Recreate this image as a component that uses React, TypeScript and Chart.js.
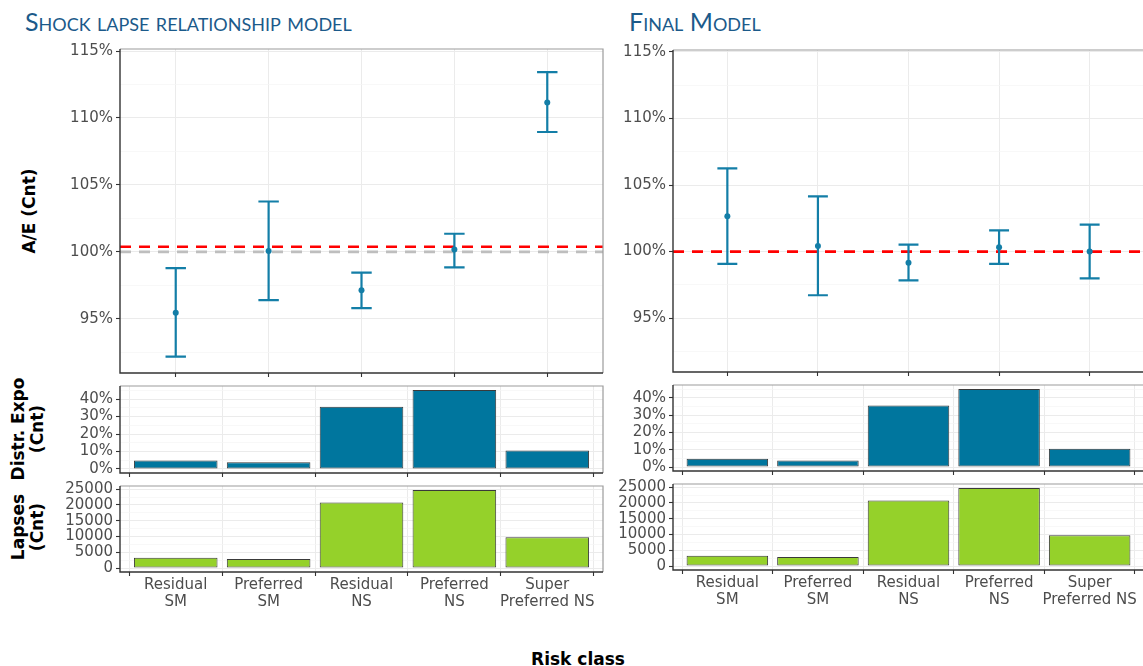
import React, { useEffect, useRef } from 'react';
import { Chart, registerables } from 'chart.js';

Chart.register(...registerables);

// Risk classes, split over two lines for the category axis
const RISK_CLASS_LINES: string[][] = [
  ['Residual', 'SM'],
  ['Preferred', 'SM'],
  ['Residual', 'NS'],
  ['Preferred', 'NS'],
  ['Super', 'Preferred NS'],
];

// A/E ratio (%) with confidence bounds: shock lapse relationship model
const SHOCK_AE = [95.45, 100.07, 97.13, 100.17, 111.15];
const SHOCK_AE_LOW = [92.17, 96.4, 95.8, 98.84, 108.95];
const SHOCK_AE_HIGH = [98.78, 103.76, 98.45, 101.35, 113.42];
const SHOCK_OVERALL_AE = 100.38;

// A/E ratio (%) with confidence bounds: final model
const FINAL_AE = [102.65, 100.42, 99.17, 100.33, 100.0];
const FINAL_AE_LOW = [99.08, 96.72, 97.83, 99.08, 97.98];
const FINAL_AE_HIGH = [106.25, 104.15, 100.53, 101.6, 102.03];
const FINAL_OVERALL_AE = 100.0;

const PARITY_AE = 100;

// Share of exposure count (%) and lapse counts per risk class
const EXPOSURE_SHARE = [4.8, 3.8, 35.6, 45.2, 10.6];
const LAPSE_COUNT = [3300, 2900, 20800, 24700, 9800];

// Axis ticks and ranges
const AE_TICKS = [95, 100, 105, 110, 115];
const AE_RANGE = [90.95, 115.15];
const SHARE_TICKS = [0, 10, 20, 30, 40];
const SHARE_RANGE = [-2.3, 47.5];
const LAPSE_TICKS = [0, 5000, 10000, 15000, 20000, 25000];
const LAPSE_RANGE = [-1240, 26000];

const FONT = '"DejaVu Sans", Verdana, sans-serif';
const TICK_TEXT = '#4D4D4D';
const AXIS_LINE = '#333333';
const FRAME_LINE = '#9C9C9C';
const GRID_MAJOR = '#EBEBEB';
const GRID_MINOR = '#F5F5F5';
const ERR_COLOR = '#137EA7';
const SHARE_FILL = '#00769E';
const LAPSE_FILL = '#95D12A';
const BAR_EDGE = '#3A3A3A';
const TITLE_COLOR = '#1B5A8A';

const PAD_TOP = 10;
const PAD_RIGHT = 4;
const CAP_HALF = 0.11; // error bar cap half-width in category units

type Frame = {
  canvasLeft: number;
  areaLeft: number;
  areaRight: number;
  areaTop: number;
  areaBottom: number;
  xHeight: number;
};

type Kind = 'ae' | 'share' | 'lapse';

type ChartSpec = {
  key: string;
  frame: Frame;
  kind: Kind;
  ae?: { mid: number[]; low: number[]; high: number[]; overall: number; parity: boolean };
};

const LEFT = { canvasLeft: 55, areaLeft: 120, areaRight: 603 };
const RIGHT = { canvasLeft: 610, areaLeft: 673, areaRight: 1144 };

const SPECS: ChartSpec[] = [
  {
    key: 'shock-ae',
    kind: 'ae',
    frame: { ...LEFT, areaTop: 49, areaBottom: 373, xHeight: 4 },
    ae: { mid: SHOCK_AE, low: SHOCK_AE_LOW, high: SHOCK_AE_HIGH, overall: SHOCK_OVERALL_AE, parity: true },
  },
  { key: 'shock-share', kind: 'share', frame: { ...LEFT, areaTop: 386, areaBottom: 473, xHeight: 4 } },
  { key: 'shock-lapse', kind: 'lapse', frame: { ...LEFT, areaTop: 486, areaBottom: 572, xHeight: 46 } },
  {
    key: 'final-ae',
    kind: 'ae',
    frame: { ...RIGHT, areaTop: 50, areaBottom: 372, xHeight: 4 },
    ae: { mid: FINAL_AE, low: FINAL_AE_LOW, high: FINAL_AE_HIGH, overall: FINAL_OVERALL_AE, parity: false },
  },
  { key: 'final-share', kind: 'share', frame: { ...RIGHT, areaTop: 385, areaBottom: 471, xHeight: 4 } },
  { key: 'final-lapse', kind: 'lapse', frame: { ...RIGHT, areaTop: 484, areaBottom: 570, xHeight: 46 } },
];

function canvasBox(f: Frame) {
  return {
    left: f.canvasLeft,
    top: f.areaTop - PAD_TOP,
    width: f.areaRight + PAD_RIGHT - f.canvasLeft,
    height: f.areaBottom - f.areaTop + PAD_TOP + f.xHeight,
  };
}

function isOnStep(v: number, step: number) {
  const r = v / step;
  return Math.abs(r - Math.round(r)) < 1e-6;
}

// Major ticks plus the minor ticks halfway between them
function withMinor(majors: number[], min: number, max: number) {
  const step = majors[1] - majors[0];
  const all = new Set<number>(majors);
  majors.forEach((v) => {
    all.add(v - step / 2);
    all.add(v + step / 2);
  });
  return Array.from(all)
    .filter((v) => v >= min - 1e-9 && v <= max + 1e-9)
    .sort((a, b) => a - b);
}

// ggplot-like panel: light frame on top/right, dark axis lines on left/bottom
const panelFrame = {
  id: 'panelFrame',
  afterDraw(chart: any) {
    const { ctx, chartArea: a } = chart;
    ctx.save();
    ctx.lineWidth = 1.2;
    ctx.strokeStyle = FRAME_LINE;
    ctx.beginPath();
    ctx.moveTo(a.left, a.top);
    ctx.lineTo(a.right, a.top);
    ctx.lineTo(a.right, a.bottom);
    ctx.stroke();
    ctx.lineWidth = 1.4;
    ctx.strokeStyle = AXIS_LINE;
    ctx.beginPath();
    ctx.moveTo(a.left, a.top);
    ctx.lineTo(a.left, a.bottom);
    ctx.lineTo(a.right, a.bottom);
    ctx.stroke();
    ctx.restore();
  },
};

function refLinesPlugin(lines: { value: number; color: string }[]) {
  return {
    id: 'refLines',
    beforeDatasetsDraw(chart: any) {
      const { ctx, chartArea: a, scales } = chart;
      ctx.save();
      ctx.lineWidth = 2.6;
      ctx.setLineDash([11, 8]);
      lines.forEach((l) => {
        const y = scales.y.getPixelForValue(l.value);
        ctx.strokeStyle = l.color;
        ctx.beginPath();
        ctx.moveTo(a.left, y);
        ctx.lineTo(a.right, y);
        ctx.stroke();
      });
      ctx.restore();
    },
  };
}

function errorBarPlugin(low: number[], high: number[]) {
  return {
    id: 'errorBars',
    beforeDatasetsDraw(chart: any) {
      const { ctx, scales } = chart;
      const { x, y } = scales;
      ctx.save();
      ctx.strokeStyle = ERR_COLOR;
      ctx.lineWidth = 2.2;
      low.forEach((lo, i) => {
        const cx = x.getPixelForValue(i + 1);
        const half = x.getPixelForValue(i + 1 + CAP_HALF) - cx;
        const yl = y.getPixelForValue(lo);
        const yh = y.getPixelForValue(high[i]);
        ctx.beginPath();
        ctx.moveTo(cx, yl);
        ctx.lineTo(cx, yh);
        ctx.moveTo(cx - half, yl);
        ctx.lineTo(cx + half, yl);
        ctx.moveTo(cx - half, yh);
        ctx.lineTo(cx + half, yh);
        ctx.stroke();
      });
      ctx.restore();
    },
  };
}

function buildConfig(spec: ChartSpec): any {
  const f = spec.frame;
  const yAxisWidth = f.areaLeft - f.canvasLeft;
  const showXLabels = spec.kind === 'lapse';

  let range: number[];
  let majors: number[];
  let fmt: (v: number) => string;
  if (spec.kind === 'ae') {
    range = AE_RANGE;
    majors = AE_TICKS;
    fmt = (v) => `${v}%`;
  } else if (spec.kind === 'share') {
    range = SHARE_RANGE;
    majors = SHARE_TICKS;
    fmt = (v) => `${v}%`;
  } else {
    range = LAPSE_RANGE;
    majors = LAPSE_TICKS;
    fmt = (v) => `${v}`;
  }
  const step = majors[1] - majors[0];
  const yTicks = withMinor(majors, range[0], range[1]);
  const major = (v: number | undefined) => v !== undefined && isOnStep(v, step);

  const options: any = {
    animation: false,
    responsive: false,
    maintainAspectRatio: false,
    events: [],
    layout: { padding: { top: PAD_TOP, right: PAD_RIGHT, bottom: 0, left: 0 } },
    plugins: { legend: { display: false }, tooltip: { enabled: false }, title: { display: false } },
    scales: {
      x: {
        type: 'linear',
        min: 0.4,
        max: RISK_CLASS_LINES.length + 0.6,
        offset: false,
        afterBuildTicks: (s: any) => {
          s.ticks = RISK_CLASS_LINES.map((_, i) => ({ value: i + 1 }));
        },
        afterFit: (s: any) => {
          s.height = f.xHeight;
          s.paddingLeft = 0;
          s.paddingRight = 0;
        },
        border: { display: false },
        grid: {
          color: GRID_MAJOR,
          lineWidth: 1,
          drawTicks: true,
          tickLength: 4,
          tickColor: AXIS_LINE,
          tickWidth: 1.1,
        },
        ticks: {
          display: showXLabels,
          autoSkip: false,
          maxRotation: 0,
          minRotation: 0,
          padding: 1,
          color: TICK_TEXT,
          font: { family: FONT, size: 15, lineHeight: 17 / 15 },
          callback: (v: number) => RISK_CLASS_LINES[Math.round(v) - 1] ?? '',
        },
      },
      y: {
        type: 'linear',
        min: range[0],
        max: range[1],
        afterBuildTicks: (s: any) => {
          s.ticks = yTicks.map((v) => ({ value: v }));
        },
        afterFit: (s: any) => {
          s.width = yAxisWidth;
          s.paddingTop = 0;
          s.paddingBottom = 0;
        },
        border: { display: false },
        grid: {
          color: (c: any) => (major(c.tick?.value) ? GRID_MAJOR : GRID_MINOR),
          lineWidth: (c: any) => (major(c.tick?.value) ? 1 : 0.7),
          tickLength: 4,
          tickColor: (c: any) => (major(c.tick?.value) ? AXIS_LINE : 'rgba(0,0,0,0)'),
          tickWidth: 1.1,
        },
        ticks: {
          autoSkip: false,
          padding: 3,
          color: TICK_TEXT,
          font: { family: FONT, size: 15 },
          callback: (v: number) => (major(v) ? fmt(v) : ''),
        },
      },
    },
  };

  if (spec.kind === 'ae' && spec.ae) {
    const ae = spec.ae;
    const lines = ae.parity
      ? [
          { value: PARITY_AE, color: '#BEBEBE' },
          { value: ae.overall, color: '#FF0000' },
        ]
      : [{ value: ae.overall, color: '#FF0000' }];
    return {
      type: 'scatter',
      data: {
        datasets: [
          {
            data: ae.mid.map((v, i) => ({ x: i + 1, y: v })),
            pointRadius: 3,
            pointBackgroundColor: ERR_COLOR,
            pointBorderWidth: 0,
            showLine: false,
          },
        ],
      },
      options,
      plugins: [refLinesPlugin(lines), errorBarPlugin(ae.low, ae.high), panelFrame],
    };
  }

  const values = spec.kind === 'share' ? EXPOSURE_SHARE : LAPSE_COUNT;
  return {
    type: 'bar',
    data: {
      datasets: [
        {
          data: values.map((v, i) => ({ x: i + 1, y: v })),
          backgroundColor: spec.kind === 'share' ? SHARE_FILL : LAPSE_FILL,
          borderColor: BAR_EDGE,
          borderWidth: 1,
          borderSkipped: false,
          categoryPercentage: 0.9,
          barPercentage: 1,
        },
      ],
    },
    options,
    plugins: [panelFrame],
  };
}

function PanelChart({ spec }: { spec: ChartSpec }) {
  const ref = useRef<HTMLCanvasElement | null>(null);
  useEffect(() => {
    if (!ref.current) return;
    const chart = new Chart(ref.current, buildConfig(spec));
    return () => chart.destroy();
  }, [spec]);
  const box = canvasBox(spec.frame);
  return (
    <canvas
      ref={ref}
      width={box.width}
      height={box.height}
      style={{ position: 'absolute', left: box.left, top: box.top, width: box.width, height: box.height }}
    />
  );
}

const titleStyle: React.CSSProperties = {
  position: 'absolute',
  top: 6,
  fontFamily: 'Lato, "Open Sans", sans-serif',
  fontSize: 25,
  lineHeight: '30px',
  fontVariant: 'small-caps',
  color: TITLE_COLOR,
  whiteSpace: 'nowrap',
};

const axisTitleStyle: React.CSSProperties = {
  position: 'absolute',
  fontFamily: FONT,
  fontWeight: 'bold',
  fontSize: 17,
  lineHeight: '19px',
  color: '#000',
  whiteSpace: 'pre',
  textAlign: 'center',
};

function YTitle({ text, x, y }: { text: string; x: number; y: number }) {
  return (
    <div style={{ ...axisTitleStyle, left: x, top: y, transform: 'translate(-50%, -50%) rotate(-90deg)' }}>{text}</div>
  );
}

export default function App() {
  return (
    <div
      style={{
        position: 'fixed',
        left: 0,
        top: 0,
        width: 1143,
        height: 666,
        overflow: 'hidden',
        background: '#fff',
      }}
    >
      <div style={{ ...titleStyle, left: 25 }}>Shock lapse relationship model</div>
      <div style={{ ...titleStyle, left: 629 }}>Final Model</div>

      <YTitle text="A/E (Cnt)" x={29} y={211} />
      <YTitle text={'Distr. Expo\n(Cnt)'} x={28} y={429} />
      <YTitle text={'Lapses\n(Cnt)'} x={28} y={527} />

      {SPECS.map((s) => (
        <PanelChart key={s.key} spec={s} />
      ))}

      <div style={{ ...axisTitleStyle, left: 578, top: 650, transform: 'translateX(-50%)' }}>Risk class</div>
    </div>
  );
}
